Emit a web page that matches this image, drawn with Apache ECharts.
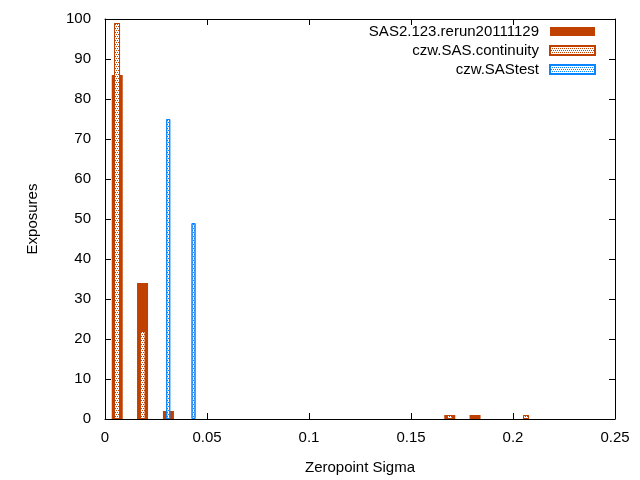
<!DOCTYPE html>
<html><head><meta charset="utf-8">
<script src="https://cdn.jsdelivr.net/npm/echarts@6/dist/echarts.min.js"></script>
<style>html,body{margin:0;padding:0;background:#fff}#c{width:640px;height:480px}</style>
</head><body><div id="c"></div>
<script>
const xTicks = [0, 0.05, 0.1, 0.15, 0.2, 0.25];
const yTicks = [0, 10, 20, 30, 40, 50, 60, 70, 80, 90, 100];
const seriesNames = ['SAS2.123.rerun20111129', 'czw.SAS.continuity', 'czw.SAStest'];
const sasX = [0.006, 0.0184, 0.0311, 0.169, 0.1814];
const sasY = [86, 34, 2, 1, 1];
const contX = [0.0059, 0.0185, 0.169, 0.2064];
const contY = [99, 22, 1, 1];
const testX = [0.031, 0.0434];
const testY = [75, 49];

const orange = '#c04000', blue = '#0a84ff';
const FONT = 'Liberation Sans';
const FS = 15;
const zip = (a, b) => a.map((v, i) => [v, b[i]]);
const checker = c => ({symbol: 'rect', symbolSize: 1, color: c, dashArrayX: [[1, 1], [0, 1, 1, 0]], dashArrayY: [1, 1]});

const xBase = {type: 'value', min: xTicks[0], max: xTicks[xTicks.length - 1], interval: 0.05};
const chart = echarts.init(document.getElementById('c'));
chart.setOption({
  animation: false,
  grid: {left: 105, right: 25, top: 19, bottom: 61, show: false},
  legend: {
    right: 44, top: 24, padding: 0, orient: 'vertical', align: 'right', itemWidth: 45, itemHeight: 9, itemGap: 4,
    textStyle: {fontFamily: FONT, fontSize: FS, color: '#000', padding: [0, 6, 0, 0]},
    data: seriesNames.map(n => ({name: n, icon: 'rect'}))
  },
  xAxis: [
    Object.assign({}, xBase, {
      position: 'bottom', name: 'Zeropoint Sigma', nameLocation: 'middle', nameGap: 41,
      nameTextStyle: {fontFamily: FONT, fontSize: FS, color: '#000'},
      axisLine: {show: true, onZero: false, lineStyle: {color: '#000', width: 1}},
      axisTick: {show: true, inside: true, length: 6, lineStyle: {color: '#000'}},
      axisLabel: {fontFamily: FONT, fontSize: FS, color: '#000', margin: 11,
        formatter: v => String(+v.toFixed(2))},
      splitLine: {show: false}
    }),
    Object.assign({}, xBase, {show: false}),
    Object.assign({}, xBase, {show: false}),
    Object.assign({}, xBase, {
      position: 'top',
      axisLine: {show: true, onZero: false, lineStyle: {color: '#000', width: 1}},
      axisTick: {show: true, inside: true, length: 6, lineStyle: {color: '#000'}},
      axisLabel: {show: false}, splitLine: {show: false}
    })
  ],
  yAxis: [
    {
      type: 'value', min: yTicks[0], max: yTicks[yTicks.length - 1], interval: 10, position: 'left',
      name: 'Exposures', nameLocation: 'middle', nameGap: 65, nameRotate: 90,
      nameTextStyle: {fontFamily: FONT, fontSize: FS, color: '#000'},
      axisLine: {show: true, onZero: false, lineStyle: {color: '#000', width: 1}},
      axisTick: {show: true, inside: true, length: 6, lineStyle: {color: '#000'}},
      axisLabel: {fontFamily: FONT, fontSize: FS, color: '#000', margin: 14},
      splitLine: {show: false}
    },
    {
      type: 'value', min: yTicks[0], max: yTicks[yTicks.length - 1], interval: 10, position: 'right',
      axisLine: {show: true, onZero: false, lineStyle: {color: '#000', width: 1}},
      axisTick: {show: true, inside: true, length: 6, lineStyle: {color: '#000'}},
      axisLabel: {show: false}, splitLine: {show: false}
    }
  ],
  series: [
    {name: seriesNames[0], type: 'bar', xAxisIndex: 0, yAxisIndex: 0, barWidth: 11,
      itemStyle: {color: orange}, data: zip(sasX, sasY)},
    {name: seriesNames[1], type: 'bar', xAxisIndex: 1, yAxisIndex: 0, barWidth: 6,
      itemStyle: {color: '#fff', borderColor: orange, borderWidth: 1, decal: checker(orange)},
      data: zip(contX, contY)},
    {name: seriesNames[2], type: 'bar', xAxisIndex: 2, yAxisIndex: 0, barWidth: 4,
      itemStyle: {color: '#fff', borderColor: blue, borderWidth: 1, decal: checker(blue)},
      data: zip(testX, testY)}
  ]
});
</script></body></html>
